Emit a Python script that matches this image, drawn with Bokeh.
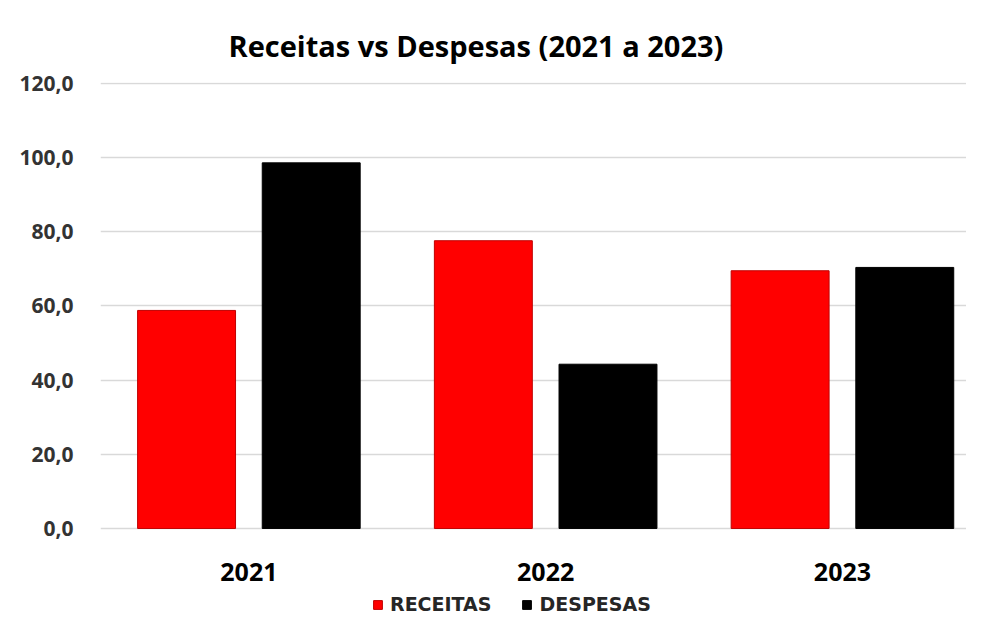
import numpy as np
from bokeh.plotting import figure
from bokeh.models import ColumnDataSource, Range1d, FixedTicker, Legend, LegendItem
from bokeh.transform import dodge
from bokeh.embed import file_html
from bokeh.resources import INLINE

years = ["2021", "2022", "2023"]
receitas = [58.8, 77.6, 69.5]
despesas = [98.6, 44.3, 70.4]
y_ticks = [0, 20, 40, 60, 80, 100, 120]

FONT = "Open Sans"

xpos = np.arange(len(years))
src = ColumnDataSource(dict(x=xpos, r=receitas, d=despesas))

p = figure(width=966, height=615, output_backend="svg", toolbar_location=None,
           x_range=Range1d(-0.5, 2.418), y_range=Range1d(-23.47, 120.27),
           min_border_left=100, min_border_right=0, min_border_top=82, min_border_bottom=0)
p.outline_line_color = None
p.background_fill_color = "white"

p.title.text = "Receitas vs Despesas (2021 a 2023)"
p.title.text_font = FONT
p.title.text_font_size = "29px"
p.title.text_font_style = "bold"
p.title.text_color = "#000000"
p.title.align = "left"
p.title.offset = 128
p.title.standoff = 36

vr = p.vbar(x=dodge("x", -0.21), top="r", width=0.33, source=src,
            fill_color="#ff0000", line_color="#c00000", line_width=1)
vd = p.vbar(x=dodge("x", 0.21), top="d", width=0.33, source=src,
            fill_color="#000000", line_color="#000000")

p.xaxis.fixed_location = 0
p.xaxis.ticker = FixedTicker(ticks=list(xpos))
p.xaxis.major_label_overrides = {int(i): y for i, y in zip(xpos, years)}
p.xaxis.major_label_text_font = FONT
p.xaxis.major_label_text_font_size = "25px"
p.xaxis.major_label_text_font_style = "bold"
p.xaxis.major_label_text_color = "#000000"
p.xaxis.major_label_standoff = 29
p.xaxis.axis_line_color = None
p.xaxis.major_tick_line_color = None
p.xaxis.minor_tick_line_color = None

p.yaxis.ticker = FixedTicker(ticks=y_ticks)
p.yaxis.major_label_overrides = {v: f"{v:.1f}".replace(".", ",") for v in y_ticks}
p.yaxis.major_label_text_font = FONT
p.yaxis.major_label_text_font_size = "21px"
p.yaxis.major_label_text_font_style = "bold"
p.yaxis.major_label_text_color = "#333333"
p.yaxis.major_label_standoff = 21
p.yaxis.axis_line_color = None
p.yaxis.major_tick_line_color = None
p.yaxis.minor_tick_line_color = None

p.xgrid.grid_line_color = None
p.ygrid.grid_line_color = "#d9d9d9"
p.ygrid.grid_line_width = 1.5

legend = Legend(items=[LegendItem(label="RECEITAS", renderers=[vr]),
                       LegendItem(label="DESPESAS", renderers=[vd])],
                orientation="horizontal", location=(272, 0),
                padding=0, margin=0, spacing=30, glyph_width=11, glyph_height=11,
                label_text_font="DejaVu Sans", label_text_font_size="19px", label_text_font_style="bold",
                label_text_color="#262626", label_standoff=7, label_height=18,
                background_fill_alpha=0, border_line_color=None)
p.add_layout(legend, "center")

open("out.html", "w").write(file_html(p, INLINE))
